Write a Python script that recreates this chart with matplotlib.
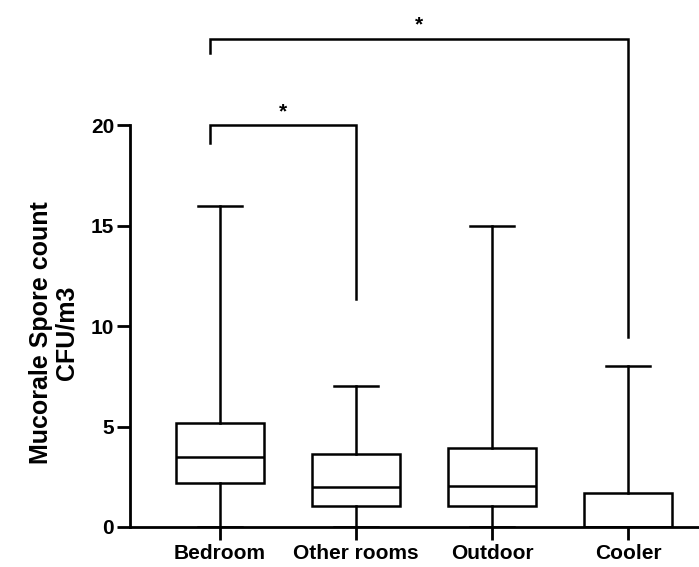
import matplotlib
matplotlib.use("Agg")
import matplotlib.pyplot as plt

plt.rcParams['font.family'] = ['Liberation Sans', 'DejaVu Sans']
plt.rcParams['font.weight'] = 'bold'

# valores
groups = ['Bedroom', 'Other rooms', 'Outdoor', 'Cooler']
mins = [0, 0, 0, 0]
q1 = [2.2, 1.05, 1.05, 0]
medians = [3.5, 2.0, 2.05, 0]
q3 = [5.2, 3.65, 3.95, 1.7]
maxs = [16, 7, 15, 8]

# colchetes de significancia: (grupo esq, grupo dir, topo, fim perna esq, fim perna dir)
brackets = [
    (0, 1, 20.0, 19.15, 11.35),
    (0, 3, 24.3, 23.6, 9.45),
]

fig = plt.figure(figsize=(6.99, 5.67), dpi=100)
ax = fig.add_axes([130/699, 40/567, 569/699, 401.5/567])

stats = []
for i in range(len(groups)):
    stats.append({'whislo': mins[i], 'q1': q1[i], 'med': medians[i],
                  'q3': q3[i], 'whishi': maxs[i], 'label': groups[i]})

lw = 1.8
ax.bxp(stats, positions=range(len(groups)), widths=0.65, showfliers=False,
       patch_artist=True,
       boxprops=dict(facecolor='white', edgecolor='black', linewidth=lw),
       medianprops=dict(color='black', linewidth=lw),
       whiskerprops=dict(color='black', linewidth=lw),
       capprops=dict(color='black', linewidth=lw))

ax.set_xlim(-0.662, 3.52)
ax.set_ylim(0, 20)
ax.set_yticks([0, 5, 10, 15, 20])
ax.spines['top'].set_visible(False)
ax.spines['right'].set_visible(False)
ax.spines['left'].set_linewidth(2.0)
ax.spines['bottom'].set_linewidth(2.0)
ax.tick_params(axis='both', length=9.5, width=2.0, labelsize=15)
ax.tick_params(axis='x', pad=3)
ax.tick_params(axis='y', pad=2)
for lab in ax.get_xticklabels() + ax.get_yticklabels():
    lab.set_fontweight('bold')

# o colchete comeca um pouco a esquerda do centro do Bedroom
off = -0.074
for a, b, top, la, lb in brackets:
    xa = a + off
    ax.plot([xa, xa, b, b], [la, top, top, lb], color='black',
            linewidth=lw, clip_on=False, solid_joinstyle='miter')
    ax.text((xa + b) / 2, top + 0.7, '*', ha='center', va='center',
            fontsize=15, fontweight='bold', clip_on=False)

fig.text(54/699, 1 - 333/567, 'Mucorale Spore count\nCFU/m3', rotation=90,
         ha='center', va='center', fontsize=18, fontweight='bold',
         multialignment='center', linespacing=1.1)

fig.savefig('out.png', dpi=100)
